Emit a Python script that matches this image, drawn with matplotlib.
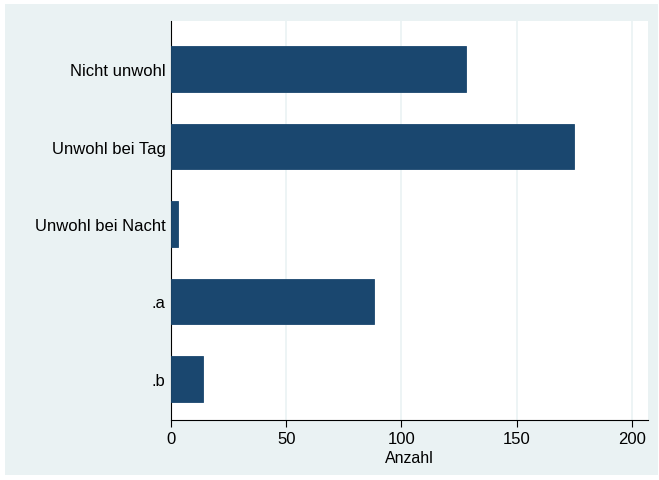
import matplotlib.pyplot as plt
from matplotlib.patches import Rectangle

categories = ['Nicht unwohl', 'Unwohl bei Tag', 'Unwohl bei Nacht', '.a', '.b']
counts = [128, 175, 3, 88, 14]
xticks = [0, 50, 100, 150, 200]

plt.rcParams['font.family'] = ['Liberation Sans', 'DejaVu Sans']

W, H = 659, 481
fig = plt.figure(figsize=(W / 100, H / 100), dpi=100, facecolor='white')

# light background panel (Stata s2color style) behind the plot
bg = fig.add_axes([0, 0, 1, 1], zorder=-1)
bg.set_xlim(0, W)
bg.set_ylim(H, 0)
bg.axis('off')
bg.add_patch(Rectangle((5, 5), 653, 471, facecolor='#eaf2f3', edgecolor='none'))

ax = fig.add_axes([171 / W, (H - 421) / H, (648 - 171) / W, (421 - 22) / H], zorder=1)
ax.set_facecolor('white')

pos = list(range(len(categories)))
ax.barh(pos, counts, height=0.59, color='#1a476f', edgecolor='#1a476f',
        linewidth=0.6, zorder=3)

ax.set_ylim(4.53, -0.62)
ax.set_yticks(pos)
ax.set_yticklabels(categories, fontsize=12)
ax.tick_params(axis='y', length=0, pad=4)

ax.set_xlim(0, 207)
ax.set_xticks(xticks)
ax.set_xticklabels([str(t) for t in xticks], fontsize=12)
ax.tick_params(axis='x', length=5, width=0.8, pad=3)
for t in xticks[1:]:
    ax.axvline(t, color='#eaf2f3', linewidth=1.2, zorder=1)

ax.set_xlabel('Anzahl', fontsize=11.5, labelpad=3)

for s in ['top', 'right']:
    ax.spines[s].set_visible(False)
for s in ['left', 'bottom']:
    ax.spines[s].set_linewidth(0.8)
    ax.spines[s].set_color('black')

fig.savefig('out.png', dpi=100, facecolor='white')
